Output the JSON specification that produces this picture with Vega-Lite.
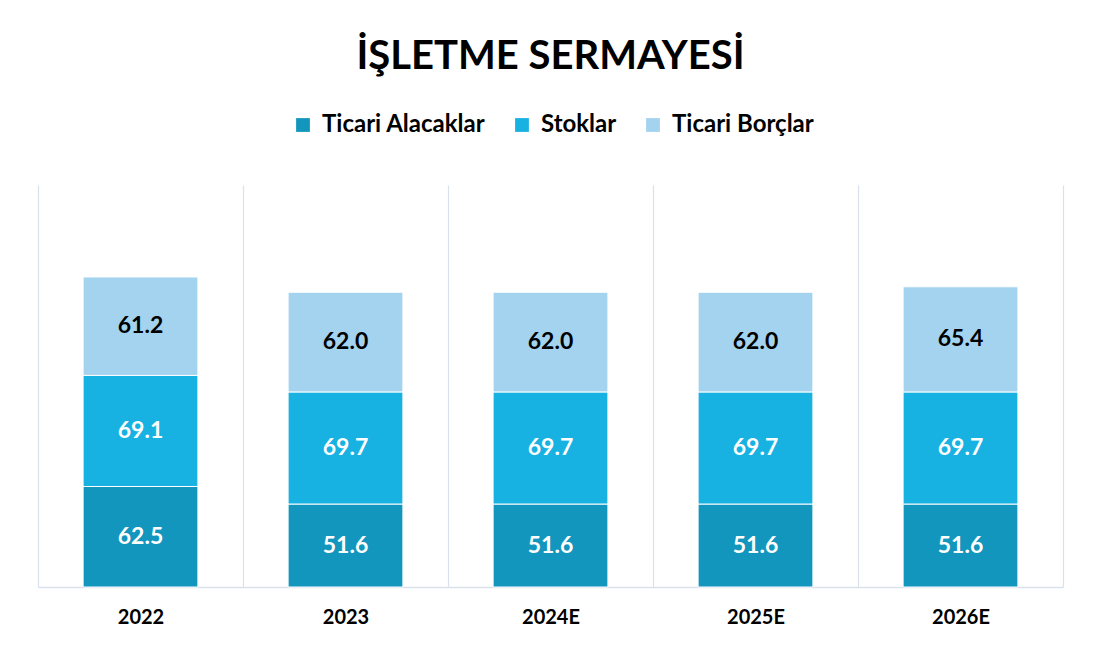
{
  "$schema": "https://vega.github.io/schema/vega-lite/v6.json",
  "width": 1025,
  "height": 402,
  "autosize": {"type": "none"},
  "padding": {"left": 38, "top": 185, "right": 30, "bottom": 63},
  "background": "white",
  "title": {
    "text": "İŞLETME SERMAYESİ",
    "font": "Lato",
    "fontSize": 40,
    "fontWeight": "bold",
    "color": "#000000",
    "anchor": "middle",
    "frame": "group",
    "offset": 36
  },
  "data": {
    "values": [
      {"year": "2022", "cat": "Ticari Alacaklar", "o": 1, "value": 62.5},
      {"year": "2022", "cat": "Stoklar", "o": 2, "value": 69.1},
      {"year": "2022", "cat": "Ticari Borçlar", "o": 3, "value": 61.2},
      {"year": "2023", "cat": "Ticari Alacaklar", "o": 1, "value": 51.6},
      {"year": "2023", "cat": "Stoklar", "o": 2, "value": 69.7},
      {"year": "2023", "cat": "Ticari Borçlar", "o": 3, "value": 62.0},
      {"year": "2024E", "cat": "Ticari Alacaklar", "o": 1, "value": 51.6},
      {"year": "2024E", "cat": "Stoklar", "o": 2, "value": 69.7},
      {"year": "2024E", "cat": "Ticari Borçlar", "o": 3, "value": 62.0},
      {"year": "2025E", "cat": "Ticari Alacaklar", "o": 1, "value": 51.6},
      {"year": "2025E", "cat": "Stoklar", "o": 2, "value": 69.7},
      {"year": "2025E", "cat": "Ticari Borçlar", "o": 3, "value": 62.0},
      {"year": "2026E", "cat": "Ticari Alacaklar", "o": 1, "value": 51.6},
      {"year": "2026E", "cat": "Stoklar", "o": 2, "value": 69.7},
      {"year": "2026E", "cat": "Ticari Borçlar", "o": 3, "value": 65.4}
    ]
  },
  "encoding": {
    "x": {
      "field": "year",
      "type": "nominal",
      "sort": null,
      "scale": {"paddingInner": 0, "paddingOuter": 0},
      "axis": {
        "title": null,
        "labelAngle": 0,
        "labelFont": "Lato",
        "labelFontSize": 20,
        "labelFontWeight": "bold",
        "labelColor": "#000000",
        "labelPadding": 20,
        "ticks": false,
        "grid": true,
        "tickBand": "extent",
        "gridColor": "#d9e1ec",
        "gridWidth": 1.2,
        "domainColor": "#d9e1ec",
        "domainWidth": 1.5
      }
    },
    "y": {
      "field": "value",
      "type": "quantitative",
      "stack": "zero",
      "scale": {"domain": [0, 250], "nice": false},
      "axis": null
    },
    "order": {"field": "o", "type": "quantitative"}
  },
  "layer": [
    {
      "mark": {"type": "bar", "stroke": "white", "strokeWidth": 1, "width": {"band": 0.56}},
      "encoding": {
        "color": {
          "field": "cat",
          "type": "nominal",
          "scale": {
            "domain": ["Ticari Alacaklar", "Stoklar", "Ticari Borçlar"],
            "range": ["#1296bd", "#17b1e2", "#a3d3ef"]
          },
          "legend": {
            "title": null,
            "orient": "none",
            "direction": "horizontal",
            "legendX": 253,
            "legendY": -72,
            "symbolType": "square",
            "symbolSize": 190,
            "symbolStrokeWidth": 0,
            "labelFont": "Lato",
            "labelFontSize": 24,
            "labelFontWeight": "bold",
            "labelColor": "#000000",
            "labelOffset": 7,
            "columnPadding": 24,
            "labelLimit": 300
          }
        }
      }
    },
    {
      "mark": {"type": "text", "font": "Lato", "fontSize": 23, "fontWeight": "bold", "baseline": "middle", "align": "center"},
      "encoding": {
        "y": {"field": "value", "type": "quantitative", "stack": "zero", "bandPosition": 0.5},
        "detail": {"field": "cat"},
        "text": {"field": "value", "type": "quantitative", "format": ".1f"},
        "color": {
          "condition": {"test": "datum.cat === 'Ticari Borçlar'", "value": "#000000"},
          "value": "#ffffff"
        }
      }
    }
  ],
  "config": {
    "view": {"stroke": null}
  }
}
